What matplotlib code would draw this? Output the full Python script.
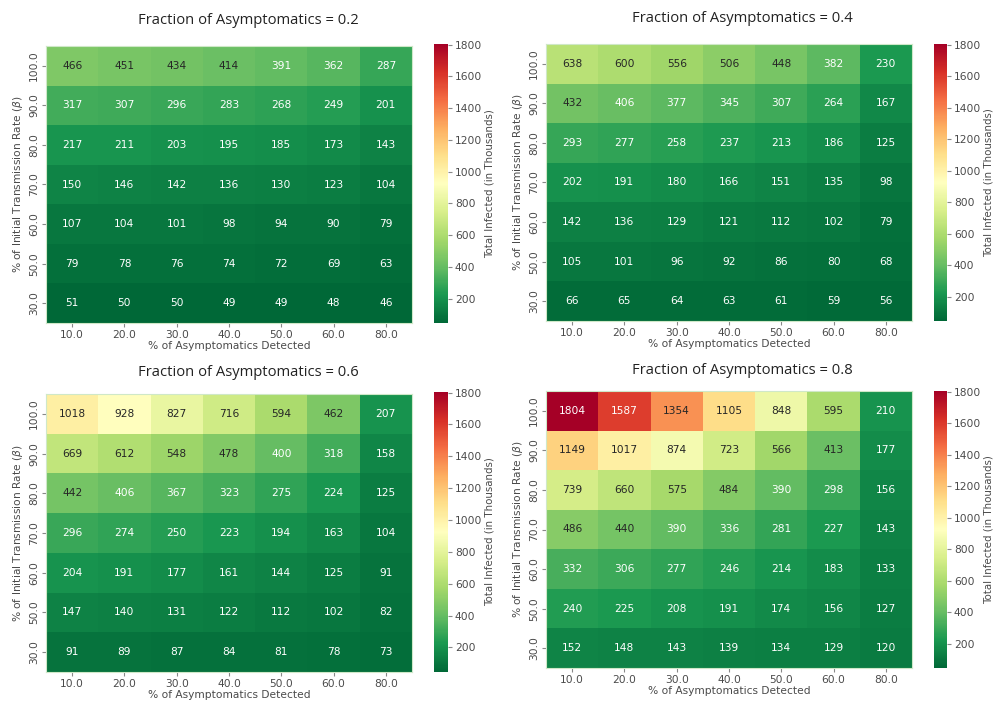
import numpy as np
import pandas as pd
import seaborn as sns
from matplotlib import pyplot as plt

plt.rcParams['font.family'] = ['DejaVu Sans']

detected = ['10.0', '20.0', '30.0', '40.0', '50.0', '60.0', '80.0']
beta = ['100.0', '90.0', '80.0', '70.0', '60.0', '50.0', '30.0']
fractions = ['0.2', '0.4', '0.6', '0.8']

infected_02 = [[466, 451, 434, 414, 391, 362, 287],
               [317, 307, 296, 283, 268, 249, 201],
               [217, 211, 203, 195, 185, 173, 143],
               [150, 146, 142, 136, 130, 123, 104],
               [107, 104, 101, 98, 94, 90, 79],
               [79, 78, 76, 74, 72, 69, 63],
               [51, 50, 50, 49, 49, 48, 46]]

infected_04 = [[638, 600, 556, 506, 448, 382, 230],
               [432, 406, 377, 345, 307, 264, 167],
               [293, 277, 258, 237, 213, 186, 125],
               [202, 191, 180, 166, 151, 135, 98],
               [142, 136, 129, 121, 112, 102, 79],
               [105, 101, 96, 92, 86, 80, 68],
               [66, 65, 64, 63, 61, 59, 56]]

infected_06 = [[1018, 928, 827, 716, 594, 462, 207],
               [669, 612, 548, 478, 400, 318, 158],
               [442, 406, 367, 323, 275, 224, 125],
               [296, 274, 250, 223, 194, 163, 104],
               [204, 191, 177, 161, 144, 125, 91],
               [147, 140, 131, 122, 112, 102, 82],
               [91, 89, 87, 84, 81, 78, 73]]

infected_08 = [[1804, 1587, 1354, 1105, 848, 595, 210],
               [1149, 1017, 874, 723, 566, 413, 177],
               [739, 660, 575, 484, 390, 298, 156],
               [486, 440, 390, 336, 281, 227, 143],
               [332, 306, 277, 246, 214, 183, 133],
               [240, 225, 208, 191, 174, 156, 127],
               [152, 148, 143, 139, 134, 129, 120]]

W, H = 994, 702


def box(x0, y0, x1, y1):
    return [x0 / W, 1 - y1 / H, (x1 - x0) / W, (y1 - y0) / H]


# pixel boxes: heatmap, colorbar, title centre
layout = [((46, 46, 412, 323), (434, 44, 448, 323), 248, 21),
          ((546, 44, 912, 321), (934, 44, 947, 321), 742, 19),
          ((46, 394, 412, 672), (434, 392, 448, 672), 248, 372),
          ((546, 391, 912, 668), (934, 391, 947, 668), 742, 371)]

all_data = [infected_02, infected_04, infected_06, infected_08]
# shared colour scale over all four panels
vmin = min(np.min(d) for d in all_data)
vmax = max(np.max(d) for d in all_data)
fs = 7.7
grey = '#4a4a4a'

fig = plt.figure(figsize=(W / 100, H / 100), dpi=100)
for frac, data, (hb, cb, tx, ty) in zip(fractions, all_data, layout):
    ax = fig.add_axes(box(*hb))
    cax = fig.add_axes(box(*cb))
    df = pd.DataFrame(data, index=beta, columns=detected)
    sns.heatmap(df, ax=ax, cbar_ax=cax, cmap='RdYlGn_r', vmin=vmin, vmax=vmax,
                annot=True, fmt='d', annot_kws={'fontsize': fs},
                cbar_kws={'ticks': [200, 400, 600, 800, 1000, 1200, 1400, 1600, 1800]})
    ax.set_xlabel('% of Asymptomatics Detected', fontsize=fs, color=grey, labelpad=1)
    ax.set_ylabel(r'% of Initial Transmission Rate ($\beta$)', fontsize=fs, color=grey, labelpad=3)
    ax.tick_params(axis='both', labelsize=fs, labelcolor=grey, color='#888888', length=3, pad=2)
    ax.set_yticklabels(beta, rotation=90, va='center')
    ax.set_xticklabels(detected, rotation=0)
    for s in ax.spines.values():
        s.set_visible(True)
        s.set_color('#cfe8c8')
        s.set_linewidth(0.8)
    cax.tick_params(labelsize=fs, labelcolor=grey, color='#888888', length=3, pad=2)
    cax.set_ylabel('Total Infected (in Thousands)', fontsize=7.4, color=grey, labelpad=1.5)
    cax.set_frame_on(False)
    fig.text(tx / W, 1 - ty / H, 'Fraction of Asymptomatics = ' + frac,
             ha='center', va='center', fontsize=10.6, family='Open Sans', color='#222222')

fig.savefig('out.png', dpi=100)
